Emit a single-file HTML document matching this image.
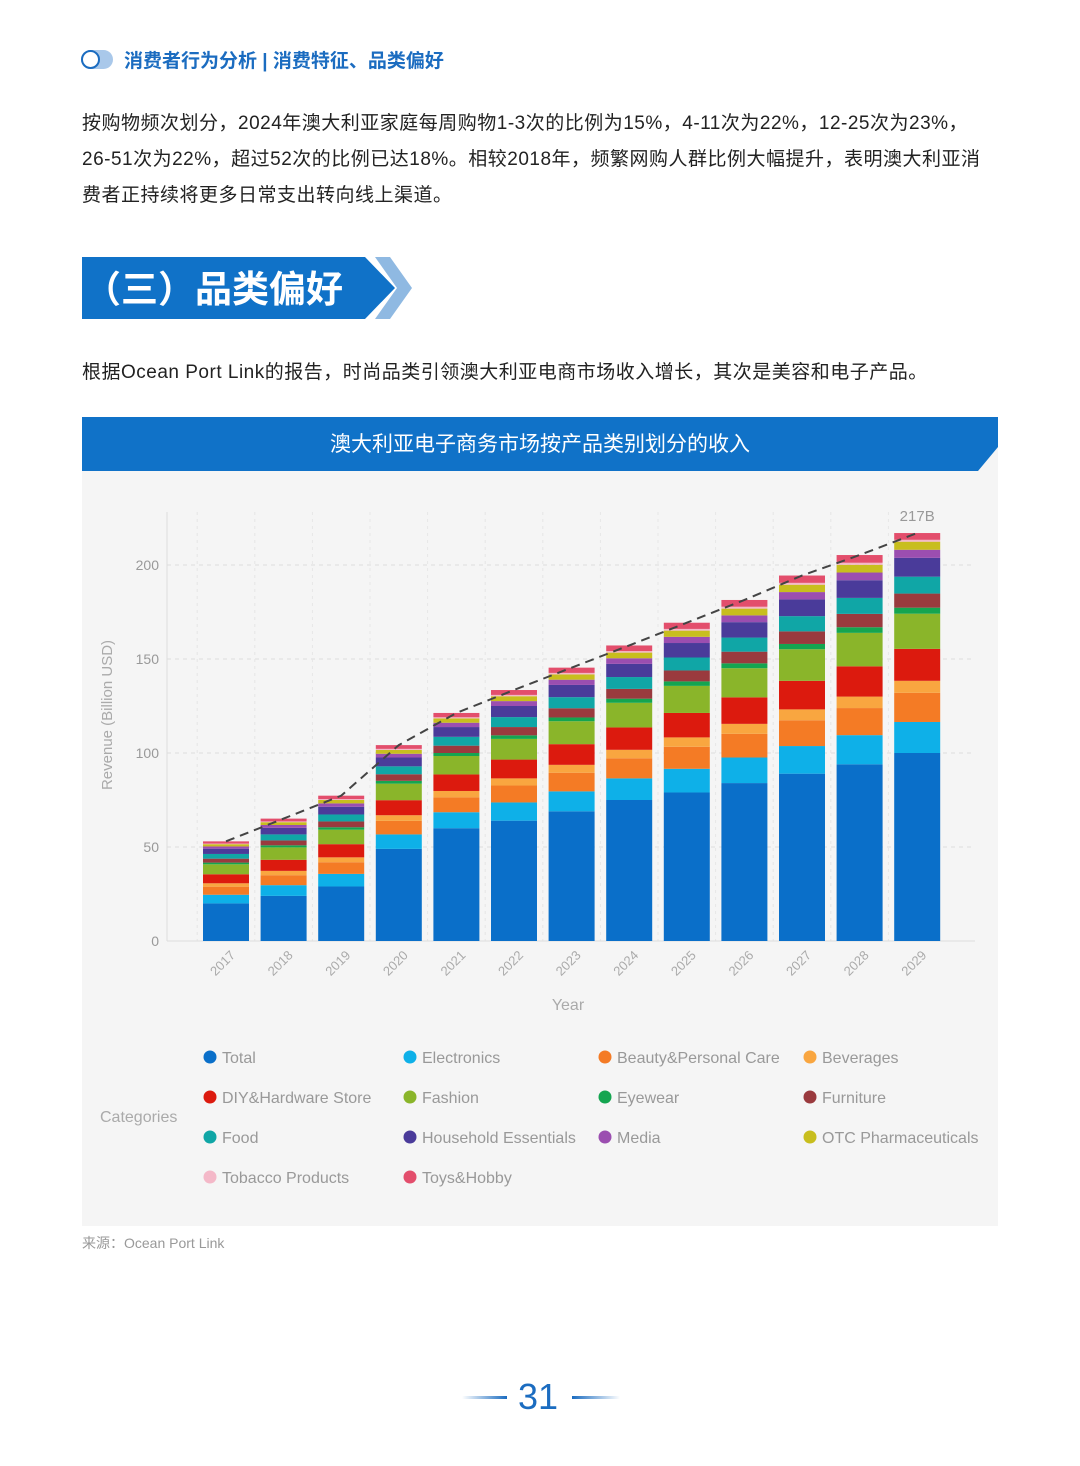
<!DOCTYPE html>
<html><head><meta charset="utf-8">
<style>
body{margin:0;width:1080px;height:1466px;background:#fff;position:relative;font-family:"Liberation Sans","Noto Sans CJK SC",sans-serif;overflow:hidden}
.abs{position:absolute}
.p{left:82px;font-size:19px;color:#222;line-height:36px;width:960px;white-space:nowrap;letter-spacing:0.5px}
</style></head><body>
<div class="abs" style="left:81px;top:50px;width:32px;height:19px;border-radius:10px;background:#a9c8ea">
 <div style="position:absolute;left:0;top:0;width:15px;height:15px;border:2px solid #1b6cc0;border-radius:50%;background:#fff"></div></div>
<div class="abs" style="left:124px;top:46px;font-size:19px;color:#1b6cc0;font-weight:bold">消费者行为分析 | 消费特征、品类偏好</div>
<div class="abs p" style="top:106px">按购物频次划分，2024年澳大利亚家庭每周购物1-3次的比例为15%，4-11次为22%，12-25次为23%，<br>26-51次为22%，超过52次的比例已达18%。相较2018年，频繁网购人群比例大幅提升，表明澳大利亚消<br>费者正持续将更多日常支出转向线上渠道。</div>
<svg class="abs" style="left:82px;top:256px" width="330" height="64">
 <polygon points="0,1 283,1 313,32 283,63 0,63" fill="#1072c8"/>
 <polygon points="293,1 308,1 330,32 308,63 293,63 315,32" fill="#8fb9e2"/>
 <text x="2" y="46" font-size="37" font-weight="bold" fill="#fff" font-family="Noto Sans CJK SC,sans-serif">（三）品类偏好</text>
</svg>
<div class="abs p" style="top:355px">根据Ocean Port Link的报告，时尚品类引领澳大利亚电商市场收入增长，其次是美容和电子产品。</div>
<div class="abs" style="left:82px;top:417px;width:916px;height:809px;background:#f5f5f5"></div>
<svg class="abs" style="left:82px;top:417px" width="916" height="55">
 <polygon points="0,0 916,0 916,30 896,54 0,54" fill="#1072c8"/>
 <text x="458" y="34" text-anchor="middle" font-size="21" fill="#fff" font-family="Liberation Sans,Noto Sans CJK SC,sans-serif">澳大利亚电子商务市场按产品类别划分的收入</text>
</svg>
<svg id="chart" class="abs" style="left:0;top:0" width="1080" height="1230"></svg>
<div class="abs" style="left:82px;top:1233px;font-size:14px;color:#999">来源：Ocean Port Link</div>
<div class="abs" style="left:462px;top:1396px;width:45px;height:3px;background:linear-gradient(90deg,rgba(27,108,192,0),#1b6cc0)"></div>
<div class="abs" style="left:500px;top:1376px;width:76px;text-align:center;font-size:36px;color:#1b6cc0">31</div>
<div class="abs" style="left:572px;top:1396px;width:48px;height:3px;background:linear-gradient(90deg,#1b6cc0,rgba(27,108,192,0))"></div>
<script>
const years=["2017","2018","2019","2020","2021","2022","2023","2024","2025","2026","2027","2028","2029"];
const catNames=["Total","Electronics","Beauty&Personal Care","Beverages","DIY&Hardware Store","Fashion","Eyewear","Furniture","Food","Household Essentials","Media","OTC Pharmaceuticals","Tobacco Products","Toys&Hobby"];
const catColors=["#0a6fc9","#0eb0e8","#f47b25","#f9a640","#dc1a0e","#8ab52a","#14a550","#9a3a3e","#10a6a6","#4a3b9a","#9b4eb0","#c8be1e","#f4b8c8","#e34e6c"];
const sTotal=[20,24,29,49,60,64,69,75,79,84,89,94,100];
const sElectronics=[4.6,5.7,6.7,7.7,8.5,9.7,10.6,11.5,12.6,13.6,14.7,15.5,16.5];
const sBeauty=[4.3,5.3,6.2,7.2,7.9,9,9.9,10.7,11.7,12.6,13.7,14.4,15.5];
const sBeverages=[1.8,2.3,2.6,3,3.4,3.8,4.2,4.5,5,5.3,5.8,6.1,6.4];
const sDIY=[4.8,5.9,7,8,8.8,10,11,11.9,13,14.1,15.2,16.1,17];
const sFashion=[5.3,6.6,7.7,8.8,9.8,11,12.2,13.1,14.4,15.5,16.8,17.8,18.7];
const sEyewear=[0.9,1.1,1.3,1.5,1.6,1.9,2,2.2,2.4,2.6,2.8,3,3.2];
const sFurniture=[2.1,2.6,3.1,3.5,3.9,4.4,4.9,5.2,5.8,6.2,6.7,7.1,7.5];
const sFood=[2.5,3.2,3.7,4.2,4.7,5.3,5.9,6.3,6.9,7.5,8.1,8.5,9];
const sHousehold=[2.8,3.5,4.1,4.7,5.2,5.9,6.5,7,7.7,8.2,8.9,9.4,10];
const sMedia=[1.2,1.5,1.8,2,2.3,2.6,2.8,3,3.3,3.6,3.9,4.1,4.3];
const sOTC=[1.2,1.5,1.8,2,2.3,2.6,2.8,3,3.3,3.6,3.9,4.1,4.3];
const sTobacco=[0.3,0.4,0.5,0.6,0.6,0.7,0.8,0.8,0.9,1,1,1.1,1];
const sToys=[1.2,1.5,1.8,2,2.3,2.6,2.8,3,3.3,3.6,3.9,4.1,3.6];
const yTicks=[0,50,100,150,200];
const series=[sTotal,sElectronics,sBeauty,sBeverages,sDIY,sFashion,sEyewear,sFurniture,sFood,sHousehold,sMedia,sOTC,sTobacco,sToys];
const NS="http://www.w3.org/2000/svg";
const svg=document.getElementById('chart');
const x0=167,x1=975,y0=941,yTop=565;
const y=v=>y0-(v/200)*(y0-yTop);
const step=57.6;
const xc=i=>226+step*i;
const bw=46;
function mk(t,a){const e=document.createElementNS(NS,t);for(const k in a)e.setAttribute(k,a[k]);svg.appendChild(e);return e;}
const F="Liberation Sans,sans-serif";
yTicks.forEach(v=>{
 if(v>0){const g=mk('line',{x1:x0,x2:x1,y1:y(v),y2:y(v),stroke:'#ddd','stroke-dasharray':'4,4'});
 
 }
 const t=mk('text',{x:159,y:y(v)+5,'text-anchor':'end','font-size':14,fill:'#999','font-family':F});t.textContent=v;
 
 
});
years.forEach((yr,i)=>{
 const g=mk('line',{x1:xc(i)-step/2,x2:xc(i)-step/2,y1:512,y2:y0,stroke:'#e6e6e6','stroke-dasharray':'3,4'});
 
 
});
const ax=mk('line',{x1:x0,x2:x0,y1:512,y2:y0,stroke:'#ddd'});


const bx=mk('line',{x1:x0,x2:x1,y1:y0,y2:y0,stroke:'#ddd'});


const tops=[];
years.forEach((yr,i)=>{
 let acc=0;
 series.forEach((s,k)=>{
  const r=mk('rect',{x:xc(i)-bw/2,y:y(acc+s[i]),width:bw,height:y(acc)-y(acc+s[i]),fill:catColors[k]});
  
  
  acc+=s[i];
 });
 tops.push(acc);
 const t=mk('text',{x:xc(i)+10,y:956,'text-anchor':'end','font-size':13,fill:'#aaa','font-family':F,transform:`rotate(-45 ${xc(i)+10} 956)`});t.textContent=yr;
 
 
});
const pl=mk('polyline',{points:tops.map((v,i)=>xc(i)+','+y(v)).join(' '),fill:'none',stroke:'#444','stroke-width':2,'stroke-dasharray':'9,6'});


const lab=mk('text',{x:xc(12),y:y(tops[12])-12,'text-anchor':'middle','font-size':15,fill:'#999','font-family':F});lab.textContent=Math.round(tops[12])+'B';


const xt=mk('text',{x:568,y:1010,'text-anchor':'middle','font-size':16,fill:'#aaa','font-family':F});xt.textContent='Year';


const yt=mk('text',{x:112,y:715,'text-anchor':'middle','font-size':15,fill:'#aaa','font-family':F,transform:'rotate(-90 112 715)'});yt.textContent='Revenue (Billion USD)';


const ct=mk('text',{x:100,y:1122,'font-size':16,fill:'#aaa','font-family':F});ct.textContent='Categories';


const colX=[210,410,605,810],rowY=[1057,1097,1137,1177];
catNames.forEach((n,k)=>{
 const cx=colX[k%4],cy=rowY[Math.floor(k/4)];
 const c=mk('circle',{cx:cx,cy:cy,r:6.5,fill:catColors[k]});
 
 
 const t=mk('text',{x:cx+12,y:cy+6,'font-size':16,fill:'#999','font-family':F});t.textContent=n;
 
 
});
</script>
</body></html>
